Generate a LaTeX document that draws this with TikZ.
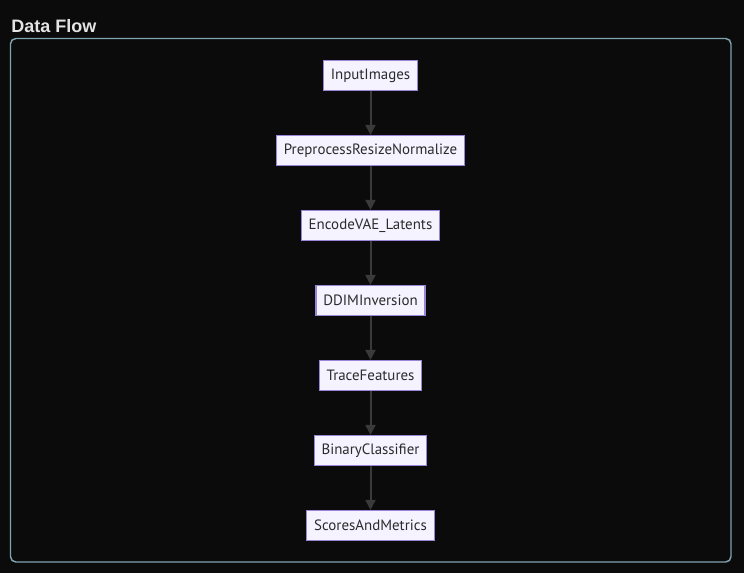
\documentclass[tikz,border=0pt]{standalone}
\usepackage{fontspec}
\setmainfont{PT Sans}
\newfontfamily\titlefont{Liberation Sans}
\usetikzlibrary{positioning,arrows.meta}
\definecolor{bgdark}{HTML}{0B0B0B}
\definecolor{framecol}{HTML}{7FA3B0}
\definecolor{boxfill}{HTML}{F5F3FF}
\definecolor{boxline}{HTML}{9A86D8}
\definecolor{boxtext}{HTML}{2B2B2B}
\definecolor{flowcol}{HTML}{3A3A3A}
\definecolor{titlecol}{HTML}{E4E4E4}

\begin{document}
\begin{tikzpicture}[x=0.75pt,y=-0.75pt,
			stage/.style={draw=boxline, fill=boxfill, text=boxtext, line width=0.9pt, minimum height=22.5pt, inner xsep=5.5pt, inner ysep=0pt, font=\fontsize{11.2}{13}\selectfont},
			flow/.style={draw=flowcol, line width=1.5pt, -{Triangle[length=7.5pt,width=7.5pt]}},
			node distance=32.85pt,
		]

			% background and group frame
			\fill[bgdark] (0,0) rectangle (744,573);
			\draw[framecol, line width=1.1pt, rounded corners=4pt] (10.5,38.5) rectangle (731,562);
			\node[anchor=base west, inner sep=0pt, text=titlecol, font=\titlefont\bfseries\fontsize{13.5}{16}\selectfont] (title) at (11,32.5) {Data Flow};

			% pipeline stages
			\node[stage] (input) at (370.5,75.5) {InputImages};
			\node[stage] (preprocess) [below=of input] {PreprocessResizeNormalize};
			\node[stage] (encode) [below=of preprocess] {EncodeVAE\_Latents};
			\node[stage] (inversion) [below=of encode] {DDIMInversion};
			\node[stage] (trace) [below=of inversion] {TraceFeatures};
			\node[stage] (classifier) [below=of trace] {BinaryClassifier};
			\node[stage] (scores) [below=of classifier] {ScoresAndMetrics};

			\draw[flow] (input) -- (preprocess);
			\draw[flow] (preprocess) -- (encode);
			\draw[flow] (encode) -- (inversion);
			\draw[flow] (inversion) -- (trace);
			\draw[flow] (trace) -- (classifier);
			\draw[flow] (classifier) -- (scores);

		\end{tikzpicture}
\end{document}
